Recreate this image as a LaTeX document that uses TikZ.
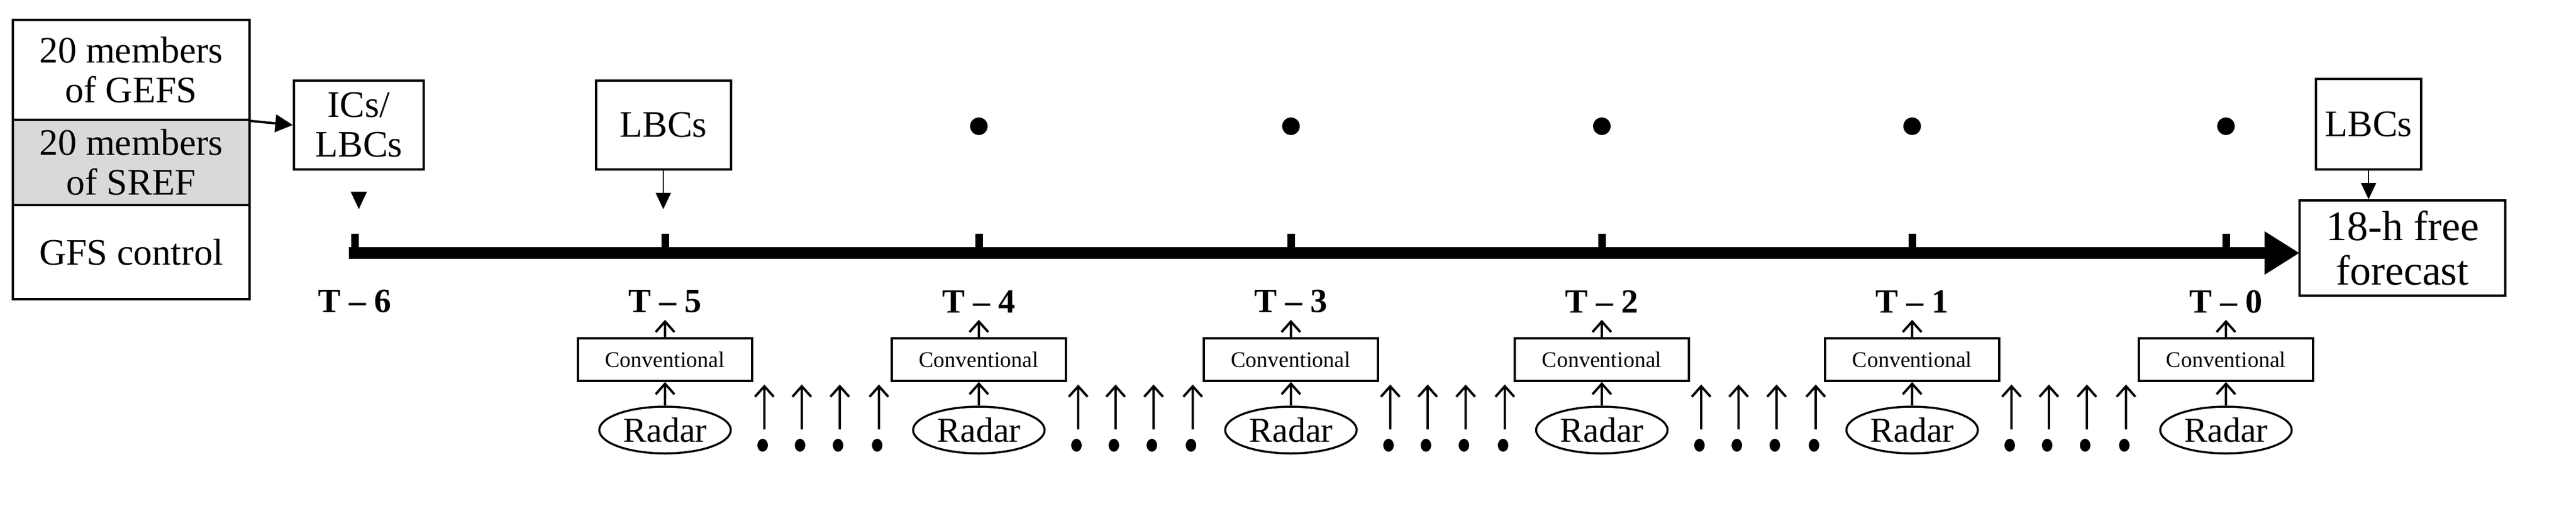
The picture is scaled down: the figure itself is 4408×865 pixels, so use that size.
\documentclass[tikz,border=0pt]{standalone}
\usepackage{fontspec}
\setmainfont{Liberation Serif}
\usetikzlibrary{shapes.geometric,arrows.meta}
\begin{document}
\begin{tikzpicture}[x=1pt,y=-1pt,
 box/.style={draw,line width=4pt,align=center,inner sep=0pt,font=\fontsize{64}{68}\selectfont},
 conv/.style={draw,line width=3.5pt,minimum width=298pt,minimum height=73pt,inner sep=0pt,font=\fontsize{38}{40}\selectfont},
 radar/.style={draw,ellipse,line width=3.5pt,minimum width=225pt,minimum height=80pt,inner sep=0pt,font=\fontsize{60}{64}\selectfont},
 tl/.style={font=\bfseries\fontsize{58}{62}\selectfont,inner sep=0pt},
 up/.style={line width=3.5pt,-{Straight Barb[length=18pt,width=32pt,line width=4pt]}},
 tri/.style={-{Triangle[length=28pt,width=26pt]},line width=2pt}]
\useasboundingbox (0,0) rectangle (4408,865);
% left stack
\node[box,minimum width=405pt,minimum height=171pt] (gefs) at (224.5,119.5) {20 members\\of GEFS};
\node[box,fill=gray!30,minimum width=405pt,minimum height=146pt] (sref) at (224.5,278) {20 members\\of SREF};
\node[box,minimum width=405pt,minimum height=161pt] (gfs) at (224.5,431.5) {GFS control};
\node[box,minimum width=222pt,minimum height=152pt] (ic) at (614,214) {ICs/\\LBCs};
\draw[line width=4pt,-{Triangle[length=30pt,width=30pt]}] (gefs.south east) -- (ic.west);
\coordinate (ictip) at (614,358);
\fill (600,328) -- (628,328) -- (614,358) -- cycle;
% axis
\coordinate (a0) at (597,433);
\coordinate (aend) at (3935,433);
\draw[line width=20pt,-{Triangle[length=60pt,width=70pt]}] (a0) -- (aend);
\foreach \i/\x/\lab in {0/607/6,1/1138/5,2/1675/4,3/2209/3,4/2741/2,5/3272/1,6/3809/0}{
  \draw[line width=13pt] (\x,400) -- (\x,433);
  \node[tl] (t\i) at (\x,516) {T -- \lab};
}
\node[box,minimum width=231pt,minimum height=152pt] (lbc5) at (1135,214) {LBCs};
\coordinate (l5tip) at (1135,358);
\draw[tri] (lbc5.south) -- (l5tip);
\foreach \x/\n in {1675/a,2209/b,2741/c,3272/d,3809/e}{\fill (\x,216) circle (15pt) coordinate (dot\n);}
\node[box,minimum width=352pt,minimum height=163pt,font=\fontsize{72}{76}\selectfont] (fc) at (4111,424.5) {18-h free\\forecast};
\node[box,minimum width=180pt,minimum height=155pt] (lbcf) at (4053,212.5) {LBCs};
\draw[tri] (lbcf.south) -- (fc.north -| lbcf.south);
% obs
\foreach \i/\x in {1/1138,2/1675,3/2209,4/2741,5/3272,6/3809}{
  \node[conv] (c\i) at (\x,615.5) {Conventional};
  \node[radar] (r\i) at (\x,736) {Radar};
  \draw[up] (r\i) -- (c\i);
  \draw[up] (c\i.north) -- ++(0,-30) coordinate (ct\i);
}
\foreach \i/\x in {1/1138,2/1675,3/2209,4/2741,5/3272}{
  \foreach \k/\dx in {1/170,2/234,3/299,4/366}{
    \draw[up] (\x+\dx,735) -- (\x+\dx,658);
    \fill (\x+\dx-3,762) ellipse (9pt and 11pt);
  }
}
\end{tikzpicture}
\end{document}
